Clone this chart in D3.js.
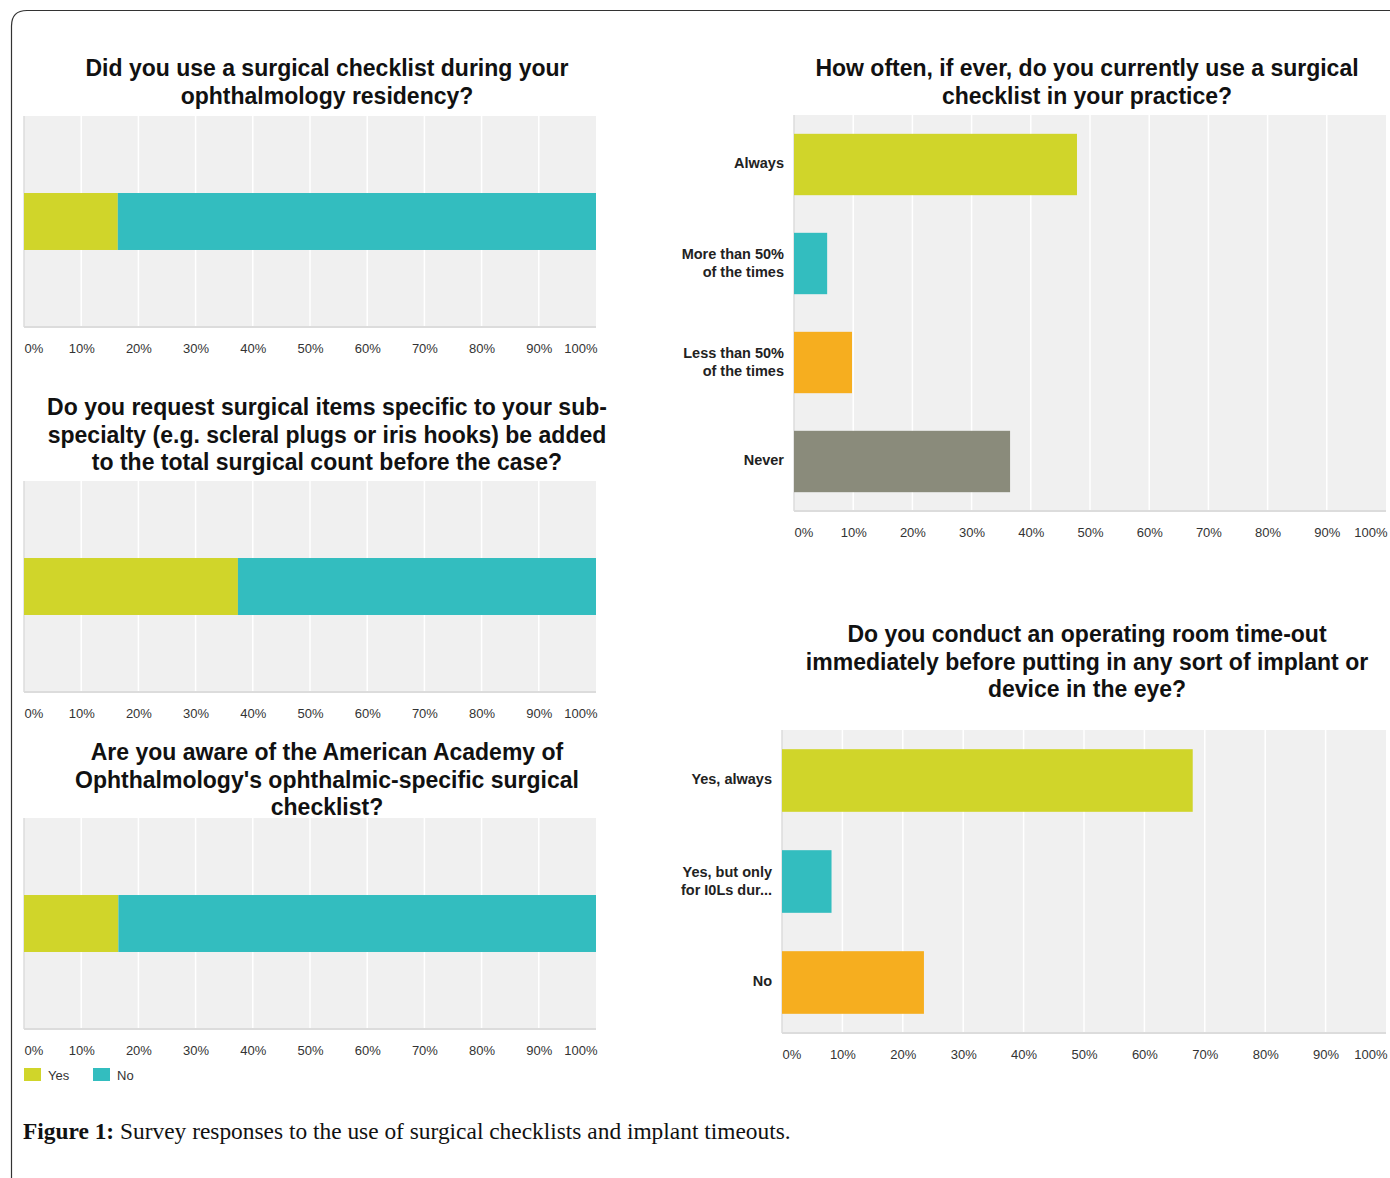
<!DOCTYPE html>
<html>
<head>
<meta charset="utf-8">
<script src="https://cdn.jsdelivr.net/npm/d3@7"></script>
<style>
  body { margin: 0; background: #fff; }
  svg { display: block; font-family: "Liberation Sans", Arial, sans-serif; }
</style>
</head>
<body>
<div id="chart"></div>
<script>
// survey answers, percent of respondents
var stackKeys = ["Yes", "No"];
var residencyVals = [16.4, 83.6];
var requestVals = [37.4, 62.6];
var awareVals = [16.5, 83.5];

var oftenCats = ["Always", "More than 50%|of the times", "Less than 50%|of the times", "Never"];
var oftenVals = [47.8, 5.6, 9.8, 36.5];

var timeoutCats = ["Yes, always", "Yes, but only|for I0Ls dur...", "No"];
var timeoutVals = [68.0, 8.2, 23.5];

var tickVals = [0, 10, 20, 30, 40, 50, 60, 70, 80, 90, 100];

var colors = ["#d0d52a", "#33bdbf", "#f6ae1f", "#8a8b7b"];

var W = 1390, H = 1178;
var svg = d3.select("#chart").append("svg")
    .attr("width", W)
    .attr("height", H);

// page frame, only the top and left edges are in the picture
svg.append("path")
    .attr("d", "M11.5," + H + " L11.5,26 Q11.5,10.5 27,10.5 L" + W + ",10.5")
    .attr("fill", "none")
    .attr("stroke", "#333")
    .attr("stroke-width", 1.2);

function title(lines, cx, y0) {
    var t = svg.append("text")
	.attr("text-anchor", "middle")
	.attr("font-size", "23px")
	.attr("font-weight", "bold")
	.attr("fill", "#111");
    lines.forEach(function(l, i){
	t.append("tspan")
	    .attr("x", cx)
	    .attr("y", y0 + i*27.5)
	    .text(l);
    });
}

// background, grid and percent axis shared by all panels
function frame(x, top, bottom, leftLine) {
    var g = svg.append("g");
    g.append("rect")
	.attr("x", x.range()[0])
	.attr("y", top)
	.attr("width", x.range()[1] - x.range()[0])
	.attr("height", bottom - top)
	.attr("fill", "#f0f0f0");
    g.selectAll("line.grid")
	.data(tickVals.slice(1, -1))
	.enter().append("line")
	.attr("class", "grid")
	.attr("x1", function(d){return x(d);})
	.attr("x2", function(d){return x(d);})
	.attr("y1", top)
	.attr("y2", bottom)
	.attr("stroke", "#fff")
	.attr("stroke-width", 1.5);
    g.append("line")
	.attr("x1", x.range()[0]).attr("x2", x.range()[1])
	.attr("y1", bottom).attr("y2", bottom)
	.attr("stroke", "#dcdcdc")
	.attr("stroke-width", 2);
    if (leftLine) {
	g.append("line")
	    .attr("x1", x.range()[0]).attr("x2", x.range()[0])
	    .attr("y1", top).attr("y2", bottom)
	    .attr("stroke", "#dcdcdc")
	    .attr("stroke-width", 1.5);
    }
    var ax = svg.append("g")
	.attr("transform", "translate(0," + (bottom + 14) + ")")
	.call(d3.axisBottom(x).tickValues(tickVals).tickSize(0)
	      .tickFormat(function(d){return d + "%";}));
    ax.select(".domain").remove();
    ax.selectAll("text")
	.style("font-family", "'Liberation Sans', Arial, sans-serif")
	.style("font-size", "13px")
	.attr("fill", "#333")
	.attr("text-anchor", function(d){return d == 0 ? "start" : d == 100 ? "end" : "middle";})
	.attr("dx", function(d){return d == 100 ? "1px" : "0";});
    return g;
}

function stacked(vals, top, bottom) {
    var x = d3.scaleLinear().domain([0, 100]).range([24, 596]);
    var g = frame(x, top, bottom, true);
    var y = d3.scaleBand().domain(["a"]).range([top, bottom]).paddingInner(0.73).paddingOuter(0.365);
    var acc = 0;
    var segs = vals.map(function(v, i){
	var s = {key: stackKeys[i], x0: acc, x1: acc + v, c: colors[i]};
	acc += v;
	return s;
    });
    g.selectAll("rect.seg")
	.data(segs)
	.enter().append("rect")
	.attr("class", "seg")
	.attr("x", function(d){return x(d.x0);})
	.attr("width", function(d){return x(d.x1) - x(d.x0);})
	.attr("y", y("a"))
	.attr("height", y.bandwidth())
	.attr("fill", function(d){return d.c;});
}

function bars(cats, vals, x0, x1, top, bottom, pad) {
    var x = d3.scaleLinear().domain([0, 100]).range([x0, x1]);
    var g = frame(x, top, bottom, true);
    var y = d3.scaleBand().domain(cats).range([top, bottom]).paddingInner(pad).paddingOuter(pad/2);
    g.selectAll("rect.bar")
	.data(cats)
	.enter().append("rect")
	.attr("class", "bar")
	.attr("x", x(0))
	.attr("width", function(d, i){return x(vals[i]) - x(0);})
	.attr("y", function(d){return y(d);})
	.attr("height", y.bandwidth())
	.attr("fill", function(d, i){return colors[i];});
    cats.forEach(function(c){
	var parts = c.split("|");
	var t = svg.append("text")
	    .attr("text-anchor", "end")
	    .attr("font-size", "14.5px")
	    .attr("font-weight", "bold")
	    .attr("fill", "#222");
	var cy = y(c) + y.bandwidth()/2 + 3 - (parts.length - 1)*8;
	parts.forEach(function(p, i){
	    t.append("tspan").attr("x", x0 - 10).attr("y", cy + i*18).text(p);
	});
    });
}

// left column
title(["Did you use a surgical checklist during your", "ophthalmology residency?"], 327, 76);
stacked(residencyVals, 116, 327);

title(["Do you request surgical items specific to your sub-",
       "specialty (e.g. scleral plugs or iris hooks) be added",
       "to the total surgical count before the case?"], 327, 415);
stacked(requestVals, 481, 692);

title(["Are you aware of the American Academy of",
       "Ophthalmology's ophthalmic-specific surgical",
       "checklist?"], 327, 760);
stacked(awareVals, 818, 1029);

// legend
var leg = svg.append("g").attr("transform", "translate(24,1068)");
stackKeys.forEach(function(k, i){
    var it = leg.append("g").attr("transform", "translate(" + (i*69) + ",0)");
    it.append("rect").attr("width", 17).attr("height", 13).attr("fill", colors[i]);
    it.append("text").attr("x", 24).attr("y", 11.5)
	.attr("font-size", "13px").attr("fill", "#333").text(k);
});

// right column
title(["How often, if ever, do you currently use a surgical", "checklist in your practice?"], 1087, 76);
bars(oftenCats, oftenVals, 794, 1386, 115, 511, 0.38);

title(["Do you conduct an operating room time-out",
       "immediately before putting in any sort of implant or",
       "device in the eye?"], 1087, 642);
bars(timeoutCats, timeoutVals, 782, 1386, 730, 1033, 0.38);

// caption
var cap = svg.append("text")
    .attr("x", 23)
    .attr("y", 1139)
    .style("font-family", "'Liberation Serif', 'Times New Roman', serif")
    .style("font-size", "23.4px")
    .attr("fill", "#111");
cap.append("tspan").attr("font-weight", "bold").text("Figure 1:");
cap.append("tspan").text(" Survey responses to the use of surgical checklists and implant timeouts.");
</script>
</body>
</html>
